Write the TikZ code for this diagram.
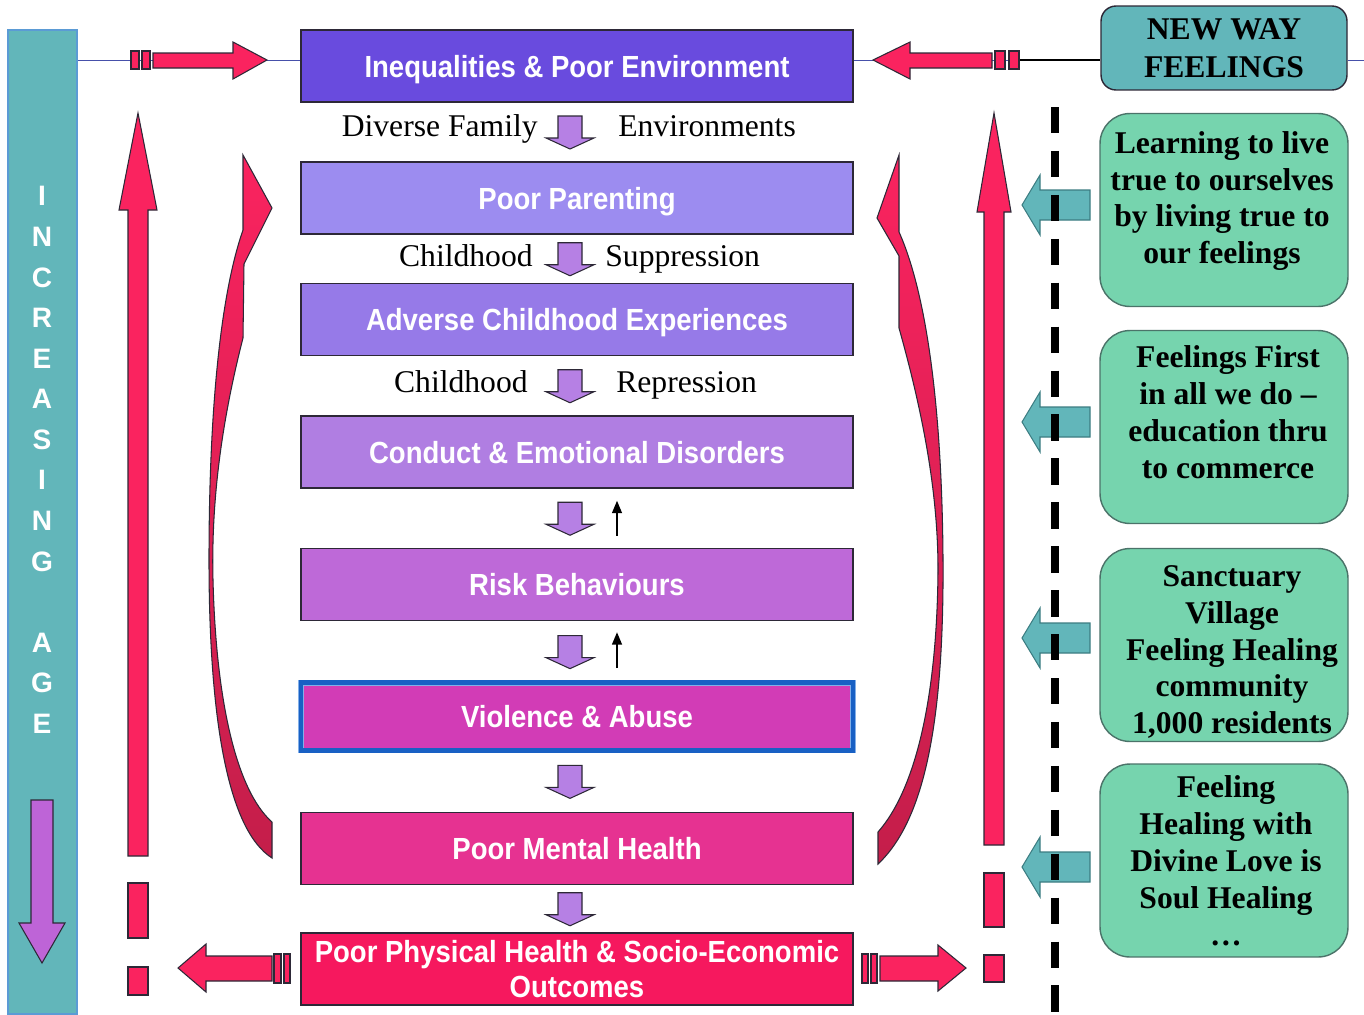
\documentclass[tikz,border=0pt]{standalone}
\usepackage{fontspec}
\setmainfont{Liberation Serif}
\newfontfamily\boxfont[FakeStretch=0.9]{Liberation Sans}
\newfontfamily\agefont{Liberation Sans}
\usetikzlibrary{arrows.meta,calc}

\definecolor{barteal}{RGB}{98,182,186}
\definecolor{barblue}{RGB}{91,155,213}
\definecolor{leafgreen}{RGB}{118,212,174}
\definecolor{arrred}{RGB}{250,35,95}
\definecolor{arrdark}{RGB}{196,30,74}
\definecolor{smallpurple}{RGB}{182,128,228}
\definecolor{agepurple}{RGB}{190,100,215}
\definecolor{cIneq}{RGB}{105,75,222}
\definecolor{cParent}{RGB}{156,140,240}
\definecolor{cAdverse}{RGB}{150,122,232}
\definecolor{cConduct}{RGB}{176,126,226}
\definecolor{cRisk}{RGB}{190,105,216}
\definecolor{cViol}{RGB}{210,60,182}
\definecolor{cMental}{RGB}{230,50,145}
\definecolor{cPhys}{RGB}{246,24,94}
\definecolor{violblue}{RGB}{24,96,196}
\definecolor{viollight}{RGB}{130,175,232}
\definecolor{edge}{RGB}{45,40,55}

\begin{document}
\begin{tikzpicture}[x=0.02cm, y=-0.02cm,
  box/.style={draw=edge, line width=0.8pt, minimum width=11.04cm, minimum height=1.44cm,
    inner sep=0pt, align=center, text=white, text depth=0pt,
    font={\boxfont\bfseries\fontsize{17.4pt}{20pt}\selectfont}},
  lbl/.style={inner sep=0pt, font={\fontsize{18pt}{21pt}\selectfont}},
  leaf/.style={draw={rgb,255:red,75;green,115;blue,105}, line width=0.8pt, fill=leafgreen,
    rounded corners=0.6cm, minimum width=4.96cm, minimum height=3.86cm},
  leaftext/.style={align=center, inner sep=0pt, font={\bfseries\fontsize{18pt}{21pt}\selectfont}},
  redarr/.style={draw=edge, line width=0.6pt, fill=arrred},
  curvearr/.style={draw=edge, line width=0.6pt, top color=arrred, middle color=arrred, bottom color=arrdark},
  tealarr/.style={draw={rgb,255:red,60;green,125;blue,130}, line width=0.6pt, fill=barteal},
  smallarr/.style={draw=edge, line width=0.6pt, fill=smallpurple},
  pdown/.pic={\draw[smallarr] (-12,-16) -- (12,-16) -- (12,6) -- (24,6) -- (0,17) -- (-24,6) -- (-12,6) -- cycle;},
  blueline/.style={draw={rgb,255:red,70;green,80;blue,170}, line width=0.5pt}
]
\path[fill=white, use as bounding box] (0,0) rectangle (1364,1014);

% age bar on the left
\node[draw=barblue, line width=1.2pt, fill=barteal, minimum width=1.38cm, minimum height=19.68cm, inner sep=0pt] (agebar) at (42.5,522) {};
\node[text=white, align=center, inner sep=0pt, font={\agefont\bfseries\fontsize{16pt}{23.1pt}\selectfont}] (agetext) at (42,460)
  {I\\N\\C\\R\\E\\A\\S\\I\\N\\G\\[23.1pt]A\\G\\E};
\draw[draw=edge, line width=0.6pt, fill=agepurple] (31,800) -- (53,800) -- (53,923) -- (65,923) -- (42,963) -- (19,923) -- (31,923) -- cycle;

% right hand header
\node[draw=edge, line width=0.8pt, fill=barteal, rounded corners=0.3cm, minimum width=4.92cm, minimum height=1.68cm,
  align=center, font={\bfseries\fontsize{18pt}{21.5pt}\selectfont}] (newway) at (1224,48) {NEW WAY\\FEELINGS};

% main chain
\node[box, fill=cIneq, text depth=-5pt] (ineq) at (577,66) {Inequalities \& Poor Environment};
\node[box, fill=cParent] (parent)  at (577,198)   {Poor Parenting};
\node[box, fill=cAdverse](adverse) at (577,319.5) {Adverse Childhood Experiences};
\node[box, fill=cConduct](conduct) at (577,452)   {Conduct \& Emotional Disorders};
\node[box, fill=cRisk]   (risk)    at (577,584.5) {Risk Behaviours};
\node[box, fill=cViol, minimum height=1.36cm, draw=viollight, line width=0.5pt,
  double=violblue, double distance=2.4pt] (viol) at (577,716.5) {Violence \& Abuse};
\node[box, fill=cMental] (mental)  at (577,848.5) {Poor Mental Health};
\node[box, fill=cPhys]   (phys)    at (577,969)   {Poor Physical Health \& Socio-Economic\\Outcomes};

% top line
\coordinate (lineR) at (1364,60);
\draw[blueline] (agebar.east |- lineR) -- (ineq.west |- lineR);
\draw[blueline] (ineq.east |- lineR) -- (newway.west |- lineR);
\draw[line width=0.8pt] (1020,60) -- (newway.west |- lineR);
\draw[blueline] (newway.east |- lineR) -- (lineR);

% labels between boxes
\node[lbl, anchor=base east] (famlbl) at (538,136) {Diverse Family};
\node[lbl, anchor=base west] (envlbl) at (618,136) {Environments};
\node[lbl, anchor=base east] (child1) at (533,266) {Childhood};
\node[lbl, anchor=base west] (supp)   at (605,266) {Suppression};
\node[lbl, anchor=base east] (child2) at (528,392) {Childhood};
\node[lbl, anchor=base west] (repr)   at (616,392) {Repression};

\foreach \a/\b in {ineq/parent, parent/adverse, adverse/conduct, conduct/risk, risk/viol, viol/mental, mental/phys}
  \path ($(\a.south)!0.5!(\b.north)+(-7,0)$) pic {pdown};

\draw[-{Triangle[length=7pt,width=5.5pt]}, line width=1.1pt] ($(risk.north)+(40,-12)$) -- ($(conduct.south)+(40,12)$);
\draw[-{Triangle[length=7pt,width=5.5pt]}, line width=1.1pt] ($(viol.north)+(40,-14)$) -- ($(risk.south)+(40,11)$);

% curved feedback arrows
\draw[curvearr] (243,155) -- (272,208) -- (244,264) -- (243,338)
  .. controls (222,420) and (211,500) .. (213,580)
  .. controls (216,700) and (236,790) .. (272,822)
  -- (272,858)
  .. controls (228,830) and (209,720) .. (209,560)
  .. controls (209,400) and (222,290) .. (243,230) -- cycle;
\draw[curvearr] (899,155) -- (877,218) -- (899,256) -- (899,328)
  .. controls (922,410) and (938,490) .. (938,570)
  .. controls (937,700) and (915,790) .. (878,832)
  -- (878,864)
  .. controls (925,820) and (944,720) .. (943,560)
  .. controls (942,400) and (925,290) .. (899,232) -- cycle;

% red block arrows
\draw[redarr] (131,51) rectangle (139,69);
\draw[redarr] (142,51) rectangle (150,69);
\draw[redarr] (153,53) -- (233,53) -- (233,42) -- (267,60) -- (233,79) -- (233,68) -- (153,68) -- cycle;
\draw[redarr] (873,60) -- (910,42) -- (910,53) -- (992,53) -- (992,68) -- (910,68) -- (910,79) -- cycle;
\draw[redarr] (995,51) rectangle (1005,69);
\draw[redarr] (1009,51) rectangle (1019,69);

\draw[redarr] (138,113) -- (157,210) -- (148,210) -- (148,856) -- (128,856) -- (128,210) -- (119,210) -- cycle;
\draw[redarr] (128,883) rectangle (148,938);
\draw[redarr] (128,967) rectangle (148,995);
\draw[redarr] (994,113) -- (1011,212) -- (1004,212) -- (1004,845) -- (984,845) -- (984,212) -- (977,212) -- cycle;
\draw[redarr] (984,873) rectangle (1004,927);
\draw[redarr] (984,955) rectangle (1004,982);

\draw[redarr] (178,968) -- (206,944) -- (206,956) -- (272,956) -- (272,981) -- (206,981) -- (206,992) -- cycle;
\draw[redarr] (274,954) rectangle (281,983);
\draw[redarr] (284,954) rectangle (290,983);
\draw[redarr] (862,954) rectangle (868,983);
\draw[redarr] (871,954) rectangle (877,983);
\draw[redarr] (880,956) -- (938,956) -- (938,945) -- (966,968) -- (938,991) -- (938,981) -- (880,981) -- cycle;

% new way boxes
\node[leaf] (g1) at (1224,210) {};
\node[leaftext] (t1) at (1222,201) {Learning to live\\true to ourselves\\by living true to\\our feelings};
\node[leaf] (g2) at (1224,427) {};
\node[leaftext] (t2) at (1228,412) {Feelings First\\in all we do –\\education thru\\to commerce};
\node[leaf] (g3) at (1224,645) {};
\node[leaftext] (t3) at (1232,652) {Sanctuary\\Village\\Feeling Healing\\community\\1,000 residents};
\node[leaf] (g4) at (1224,860.5) {};
\node[leaftext] (t4) at (1226,861) {Feeling\\Healing with\\Divine Love is\\Soul Healing\\\ldots};

\foreach \y in {205,422,638,867}
  \draw[tealarr] (1022,\y) -- (1040,\y-30) -- (1040,\y-15) -- (1090,\y-15) -- (1090,\y+15) -- (1040,\y+15) -- (1040,\y+30) -- cycle;

\coordinate (dashtop) at (1055,107);
\coordinate (dashbot) at (1055,1014);
\draw[line width=5pt, dash pattern=on 15pt off 10pt] (dashtop) -- (dashbot);
\end{tikzpicture}
\end{document}
